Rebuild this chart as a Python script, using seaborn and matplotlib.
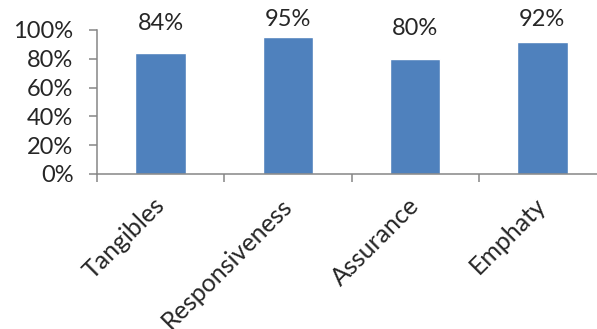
import matplotlib
matplotlib.use('Agg')
import matplotlib.pyplot as plt
import seaborn as sns
from matplotlib.ticker import PercentFormatter, FixedLocator

categories = ['Tangibles', 'Responsiveness', 'Assurance', 'Emphaty']
scores = [0.84, 0.95, 0.80, 0.92]

sns.set_style('white')
plt.rcParams['font.family'] = ['Lato', 'DejaVu Sans']

fig = plt.figure(figsize=(5.97, 3.29), dpi=100)
W, H = 597, 329
ax = fig.add_axes([97 / W, 1 - 174 / H, 509 / W, 144 / H])

sns.barplot(x=categories, y=scores, color='#4F81BD', saturation=1,
            width=0.395, ax=ax)

ax.set_xlim(-0.5, 3.5)
ax.set_ylim(0, 1)
ax.yaxis.set_major_locator(FixedLocator([0, 0.2, 0.4, 0.6, 0.8, 1.0]))
ax.yaxis.set_major_formatter(PercentFormatter(1, decimals=0))

gray = '#868686'
for side in ['top', 'right']:
    ax.spines[side].set_visible(False)
for side in ['left', 'bottom']:
    ax.spines[side].set_color(gray)
    ax.spines[side].set_linewidth(1.1)

ax.tick_params(axis='y', direction='out', length=6, width=1.1, color=gray,
               labelsize=17, pad=11, left=True)
ax.set_xticks([-0.5, 0.5, 1.5, 2.5], minor=True)
ax.tick_params(axis='x', which='minor', direction='out', length=6, width=1.1,
               color=gray, bottom=True)
ax.tick_params(axis='x', which='major', length=0, labelsize=18, pad=20)
for lab in ax.get_xticklabels():
    lab.set_rotation(45)
    lab.set_ha('right')
    lab.set_va('center')
    lab.set_rotation_mode('anchor')

ax.set_xlabel('')
ax.set_ylabel('')

for i, v in enumerate(scores):
    ax.text(i, min(v + 0.135, 1.0), f'{round(v * 100)}%', ha='center',
            va='bottom', fontsize=17, clip_on=False)

fig.savefig('out.png', dpi=100)
